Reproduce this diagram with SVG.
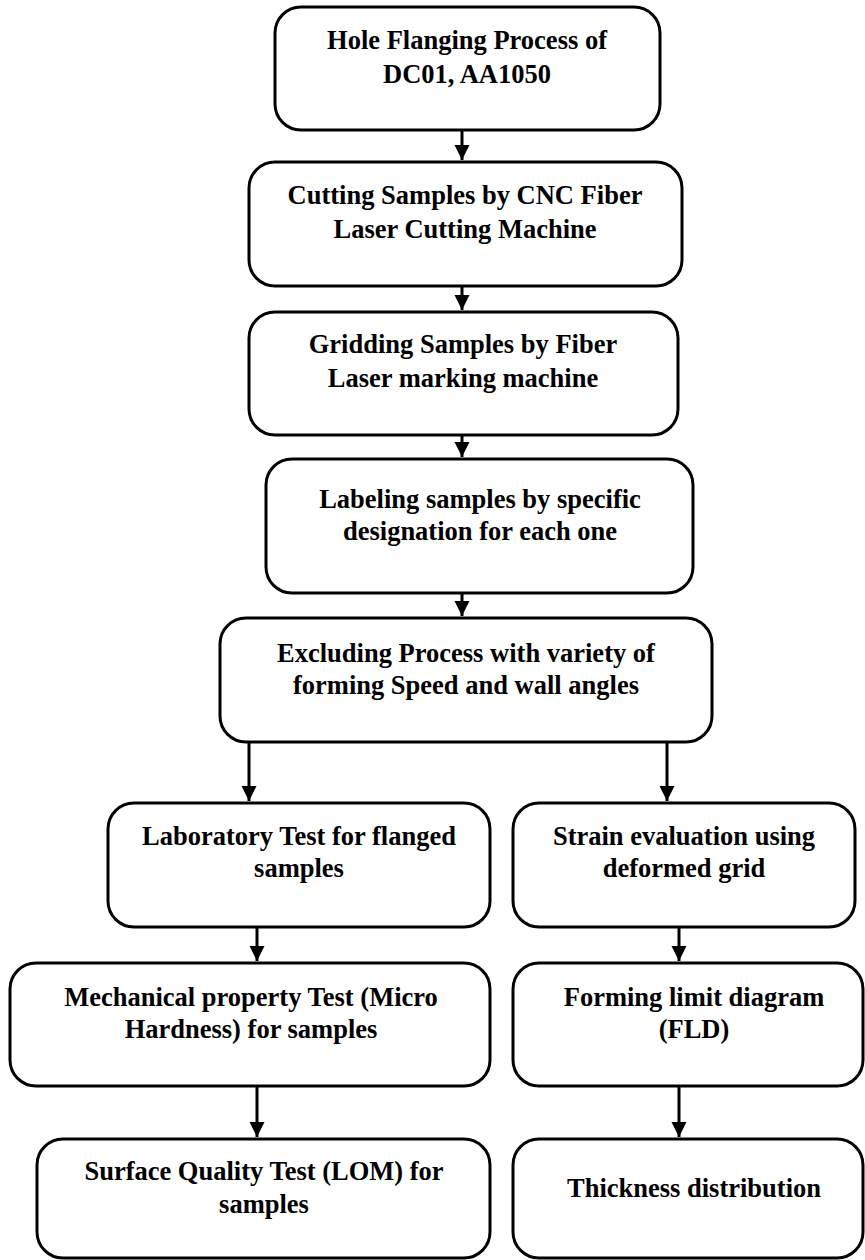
<svg xmlns="http://www.w3.org/2000/svg" width="865" height="1260" viewBox="0 0 865 1260">
<style>
.box{fill:#fff;stroke:#000;stroke-width:3}
.t{font-family:"Liberation Serif","Times New Roman",serif;font-weight:bold;font-size:26.5px;fill:#000;text-anchor:middle}
.c{stroke:#000;stroke-width:3;fill:none}
</style>
<defs>
<marker id="ah" markerUnits="userSpaceOnUse" markerWidth="16" markerHeight="16" viewBox="0 0 16 16" refX="15" refY="8" orient="auto">
<path d="M0,0.5 L15,8 L0,15.5 Z" fill="#000"/>
</marker>
</defs>
<rect width="865" height="1260" fill="#fff"/>
<g id="connectors">
<path class="c" d="M462,130 V160" marker-end="url(#ah)"/>
<path class="c" d="M462,286 V310" marker-end="url(#ah)"/>
<path class="c" d="M462,435 V457" marker-end="url(#ah)"/>
<path class="c" d="M462,593 V616" marker-end="url(#ah)"/>
<path class="c" d="M249,742 V801" marker-end="url(#ah)"/>
<path class="c" d="M667,742 V801" marker-end="url(#ah)"/>
<path class="c" d="M257,927 V961" marker-end="url(#ah)"/>
<path class="c" d="M679,927 V961" marker-end="url(#ah)"/>
<path class="c" d="M257,1086 V1137" marker-end="url(#ah)"/>
<path class="c" d="M679,1086 V1137" marker-end="url(#ah)"/>
</g>
<g id="n1"><rect class="box" x="275" y="7" width="385" height="123" rx="26"/>
<text class="t" x="467" y="49">Hole Flanging Process of</text><text class="t" x="467" y="83">DC01, AA1050</text></g>
<g id="n2"><rect class="box" x="249" y="162" width="433" height="124" rx="26"/>
<text class="t" x="465" y="204">Cutting Samples by CNC Fiber</text><text class="t" x="465" y="238">Laser Cutting Machine</text></g>
<g id="n3"><rect class="box" x="249" y="312" width="429" height="123" rx="26"/>
<text class="t" x="463" y="353">Gridding Samples by Fiber</text><text class="t" x="463" y="387">Laser marking machine</text></g>
<g id="n4"><rect class="box" x="266" y="459" width="427" height="134" rx="26"/>
<text class="t" x="480" y="508">Labeling samples by specific</text><text class="t" x="480" y="540">designation for each one</text></g>
<g id="n5"><rect class="box" x="220" y="618" width="492" height="124" rx="26"/>
<text class="t" x="466" y="662">Excluding Process with variety of</text><text class="t" x="466" y="694">forming Speed and wall angles</text></g>
<g id="n6"><rect class="box" x="108" y="803" width="382" height="124" rx="26"/>
<text class="t" x="299" y="845">Laboratory Test for flanged</text><text class="t" x="299" y="877">samples</text></g>
<g id="n7"><rect class="box" x="513" y="803" width="342" height="124" rx="26"/>
<text class="t" x="684" y="845">Strain evaluation using</text><text class="t" x="684" y="877">deformed grid</text></g>
<g id="n8"><rect class="box" x="10" y="963" width="480" height="123" rx="26"/>
<text class="t" x="251" y="1006">Mechanical property Test (Micro</text><text class="t" x="251" y="1038">Hardness) for samples</text></g>
<g id="n9"><rect class="box" x="513" y="963" width="350" height="123" rx="26"/>
<text class="t" x="694" y="1006">Forming limit diagram</text><text class="t" x="694" y="1038">(FLD)</text></g>
<g id="n10"><rect class="box" x="37" y="1139" width="453" height="119" rx="26"/>
<text class="t" x="264" y="1180">Surface Quality Test (LOM) for</text><text class="t" x="264" y="1213">samples</text></g>
<g id="n11"><rect class="box" x="513" y="1139" width="350" height="119" rx="26"/>
<text class="t" x="694" y="1197">Thickness distribution</text></g>
</svg>
